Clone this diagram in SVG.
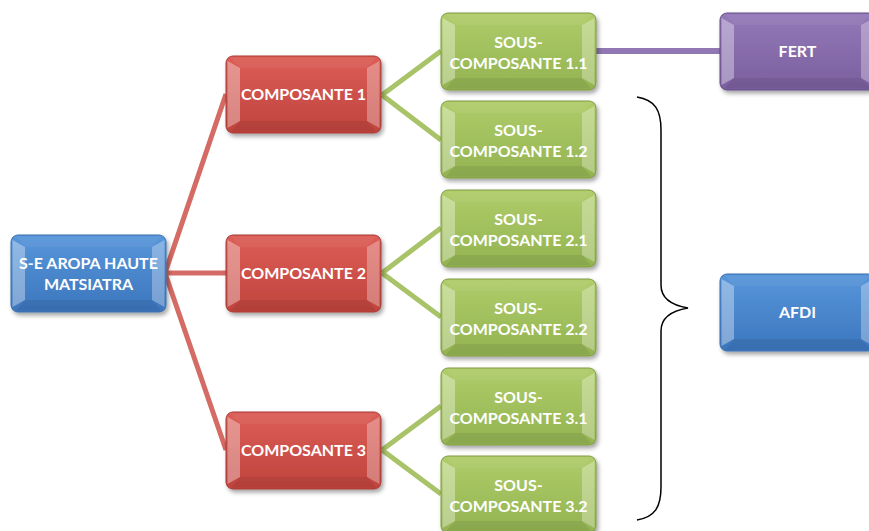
<svg xmlns="http://www.w3.org/2000/svg" width="869" height="531" viewBox="0 0 869 531">
<style>
.t{font-family:Lato,"Open Sans","Liberation Sans",sans-serif;font-weight:bold;font-size:16px;fill:#fff;text-anchor:middle}
.red{stroke:#d46b64;stroke-width:5;fill:none}
.grn{stroke:#a9c468;stroke-width:5;fill:none}
.pur{stroke:#9178b5;stroke-width:6;fill:none}
.blue{fill:url(#gB);stroke:#3a6fae;stroke-width:1}
.redb{fill:url(#gR);stroke:#a63a35;stroke-width:1}
.grnb{fill:url(#gG);stroke:#7f9a45;stroke-width:1}
.purb{fill:url(#gP);stroke:#634c85;stroke-width:1}
</style>
<defs>
<filter id="sh" x="-10%" y="-10%" width="125%" height="135%"><feDropShadow dx="2" dy="3" stdDeviation="2" flood-color="#000" flood-opacity="0.35"/></filter>
<linearGradient id="gB" x1="0" y1="0" x2="0" y2="1"><stop offset="0" stop-color="#5896da"/><stop offset="1" stop-color="#3c76bd"/></linearGradient>
<linearGradient id="gR" x1="0" y1="0" x2="0" y2="1"><stop offset="0" stop-color="#dc5e57"/><stop offset="1" stop-color="#c0433d"/></linearGradient>
<linearGradient id="gG" x1="0" y1="0" x2="0" y2="1"><stop offset="0" stop-color="#afcd6a"/><stop offset="1" stop-color="#93b351"/></linearGradient>
<linearGradient id="gP" x1="0" y1="0" x2="0" y2="1"><stop offset="0" stop-color="#9479b8"/><stop offset="1" stop-color="#7a5f9e"/></linearGradient>
<g id="bev">
<polygon points="1.5,5 14,12 14,65 1.5,72" fill="#fff" fill-opacity="0.35"/>
<polygon points="153.5,5 141,12 141,65 153.5,72" fill="#fff" fill-opacity="0.3"/>
<polygon points="5,1.5 150,1.5 141,12 14,12" fill="#fff" fill-opacity="0.05"/>
<polygon points="5,75.5 150,75.5 141,65 14,65" fill="#000" fill-opacity="0.07"/>
</g>
</defs>
<g id="connectors">
<path class="red" d="M165,273 L226,94 M165,273 L226,273 M165,273 L226,450"/>
<path class="grn" d="M382,95 L441,51 M382,95 L441,140 M382,273 L441,228 M382,273 L441,317 M382,450 L441,406 M382,450 L441,494"/>
<path class="pur" d="M596,51 L720,51"/>
<path d="M637,97 C655,100 661,110 661,130 L661,285 C661,298 670,305 688,308 C670,311 661,318 661,331 L661,487 C661,507 655,517 637,520" fill="none" stroke="#000" stroke-width="1.5"/>
</g>
<g id="root" transform="translate(11,235)"><rect width="155" height="77" rx="7" class="blue" filter="url(#sh)"/><use href="#bev"/><text class="t" x="77.5" y="34">S-E AROPA HAUTE</text><text class="t" x="77.5" y="55">MATSIATRA</text></g>
<g id="c1" transform="translate(226,56)"><rect width="155" height="77" rx="7" class="redb" filter="url(#sh)"/><use href="#bev"/><text class="t" x="77.5" y="44">COMPOSANTE 1</text></g>
<g id="c2" transform="translate(226,235)"><rect width="155" height="77" rx="7" class="redb" filter="url(#sh)"/><use href="#bev"/><text class="t" x="77.5" y="44">COMPOSANTE 2</text></g>
<g id="c3" transform="translate(226,412)"><rect width="155" height="77" rx="7" class="redb" filter="url(#sh)"/><use href="#bev"/><text class="t" x="77.5" y="44">COMPOSANTE 3</text></g>
<g id="s11" transform="translate(441,13)"><rect width="155" height="77" rx="7" class="grnb" filter="url(#sh)"/><use href="#bev"/><text class="t" x="77.5" y="35">SOUS-</text><text class="t" x="77.5" y="56">COMPOSANTE 1.1</text></g>
<g id="s12" transform="translate(441,101)"><rect width="155" height="77" rx="7" class="grnb" filter="url(#sh)"/><use href="#bev"/><text class="t" x="77.5" y="35">SOUS-</text><text class="t" x="77.5" y="56">COMPOSANTE 1.2</text></g>
<g id="s21" transform="translate(441,190)"><rect width="155" height="77" rx="7" class="grnb" filter="url(#sh)"/><use href="#bev"/><text class="t" x="77.5" y="35">SOUS-</text><text class="t" x="77.5" y="56">COMPOSANTE 2.1</text></g>
<g id="s22" transform="translate(441,279)"><rect width="155" height="77" rx="7" class="grnb" filter="url(#sh)"/><use href="#bev"/><text class="t" x="77.5" y="35">SOUS-</text><text class="t" x="77.5" y="56">COMPOSANTE 2.2</text></g>
<g id="s31" transform="translate(441,368)"><rect width="155" height="77" rx="7" class="grnb" filter="url(#sh)"/><use href="#bev"/><text class="t" x="77.5" y="35">SOUS-</text><text class="t" x="77.5" y="56">COMPOSANTE 3.1</text></g>
<g id="s32" transform="translate(441,456)"><rect width="155" height="77" rx="7" class="grnb" filter="url(#sh)"/><use href="#bev"/><text class="t" x="77.5" y="35">SOUS-</text><text class="t" x="77.5" y="56">COMPOSANTE 3.2</text></g>
<g id="fert" transform="translate(720,13)"><rect width="155" height="77" rx="7" class="purb" filter="url(#sh)"/><use href="#bev"/><text class="t" x="77.5" y="44">FERT</text></g>
<g id="afdi" transform="translate(720,274)"><rect width="155" height="77" rx="7" class="blue" filter="url(#sh)"/><use href="#bev"/><text class="t" x="77.5" y="44">AFDI</text></g>
</svg>
